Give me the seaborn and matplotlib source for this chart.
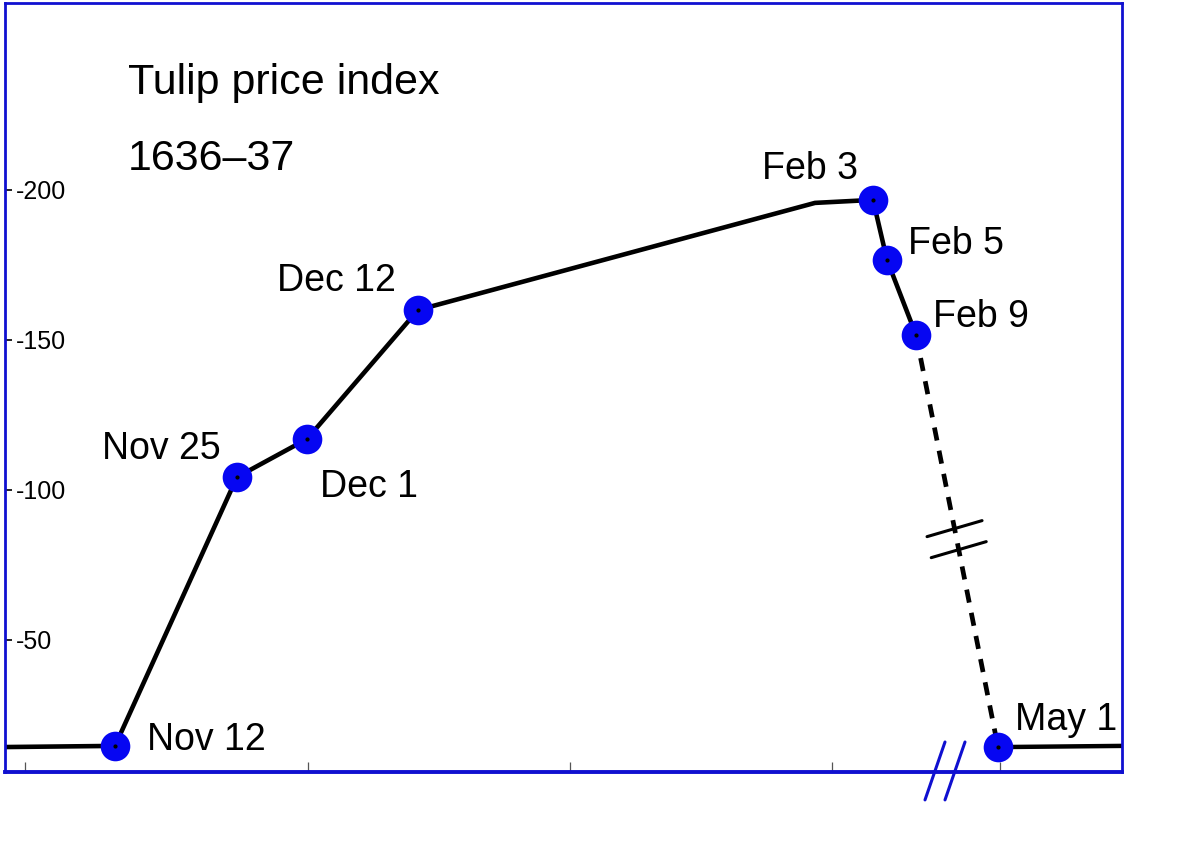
import numpy as np
import seaborn as sns
import matplotlib.pyplot as plt
import pandas as pd

# points: horizontal plot position and index value
dates = ["", "Nov 12", "Nov 25", "Dec 1", "Dec 12", "", "Feb 3", "Feb 5", "Feb 9"]
x_pos = [0, 115, 237, 307, 418, 815, 873, 887, 916]
index = [14.3, 14.7, 104.3, 117.0, 160.0, 195.7, 196.7, 176.7, 151.7]

crash_date = "May 1"
crash_x = 998
crash_y = 14.3
tail_x = [998, 1122]
tail_y = [14.3, 14.7]

y_ticks = [50, 100, 150, 200]
y_tick_labels = ["-50", "-100", "-150", "-200"]
x_ticks = [25, 308, 570, 832, 1000]

# label offsets in points (dx, dy, ha)
label_offsets = {
    "Nov 12": (23, -3, "left"),
    "Nov 25": (-12, 13, "right"),
    "Dec 1": (9, -42, "left"),
    "Dec 12": (-16, 14, "right"),
    "Feb 3": (-11, 15, "right"),
    "Feb 5": (15, 4, "left"),
    "Feb 9": (12, 6, "left"),
    "May 1": (12, 12, "left"),
}

sns.set_style("white")
plt.rcParams['font.family'] = ['Liberation Sans', 'DejaVu Sans']
plt.rcParams['text.color'] = 'black'
plt.rcParams['ytick.color'] = 'black'

frame_blue = "#1010d0"
dot_blue = "#0606f2"

fig = plt.figure(figsize=(12, 8.49), dpi=100)
ax = fig.add_axes([5 / 1200, 77 / 849, 1117 / 1200, 769 / 849])

df = pd.DataFrame({"x": x_pos, "y": index, "date": dates})

# rising part and the fall to Feb 9
sns.lineplot(data=df, x="x", y="y", sort=False, color="black", lw=3.3, ax=ax)
# dashed drop to May 1
sns.lineplot(x=[x_pos[-1], crash_x], y=[index[-1], crash_y], sort=False,
             color="black", lw=3.4, ax=ax)
ax.lines[-1].set_dashes((2.8, 2.2))
# flat after May 1
sns.lineplot(x=tail_x, y=tail_y, sort=False, color="black", lw=3.2, ax=ax)

pts = df[df["date"] != ""]
mx = list(pts["x"]) + [crash_x]
my = list(pts["y"]) + [crash_y]
names = list(pts["date"]) + [crash_date]
sns.scatterplot(x=mx, y=my, s=390, color=dot_blue, edgecolor=dot_blue, ax=ax, zorder=5)
ax.scatter(mx, my, s=4, color="black", zorder=6)

for name, xx, yy in zip(names, mx, my):
    dx, dy, ha = label_offsets[name]
    ax.annotate(name, (xx, yy), xytext=(dx, dy), textcoords="offset points",
                ha=ha, va="baseline", fontsize=27, color="black")

ax.set_xlim(5, 1122)
ax.set_ylim(6, 262.33)
ax.set_xlabel("")
ax.set_ylabel("")

ax.set_yticks(y_ticks)
ax.set_yticklabels(y_tick_labels, fontsize=18, color="black")
ax.tick_params(axis="y", left=True, direction="in", length=5, width=1.2,
               color="black", pad=-7.5)
for lab in ax.get_yticklabels():
    lab.set_horizontalalignment("left")

ax.set_xticks(x_ticks)
ax.set_xticklabels([])
ax.tick_params(axis="x", bottom=True, direction="in", length=7, width=0.9,
               color="#555555")

for side, lw in [("left", 2.0), ("top", 2.0), ("right", 2.0), ("bottom", 2.8)]:
    ax.spines[side].set_visible(True)
    ax.spines[side].set_color(frame_blue)
    ax.spines[side].set_linewidth(lw)

# axis break marks (//) on the x axis
for bx in [945, 965]:
    ax.plot([bx, bx - 20], [16, -3.3], color=frame_blue, lw=2.2, clip_on=False)

# break marks across the dashed drop
for t in [0.47, 0.521]:
    cx = x_pos[-1] + t * (crash_x - x_pos[-1])
    cy = index[-1] + t * (crash_y - index[-1])
    ax.plot([cx - 27.5, cx + 27.5], [cy - 2.67, cy + 2.67], color="black", lw=2.2)

ax.text(0.110, 0.882, "Tulip price index", transform=ax.transAxes,
        fontsize=31, va="baseline", ha="left", color="black")
ax.text(0.110, 0.783, "1636\u201337", transform=ax.transAxes,
        fontsize=31, va="baseline", ha="left", color="black")

fig.savefig("out.png", dpi=100)
plt.close(fig)
